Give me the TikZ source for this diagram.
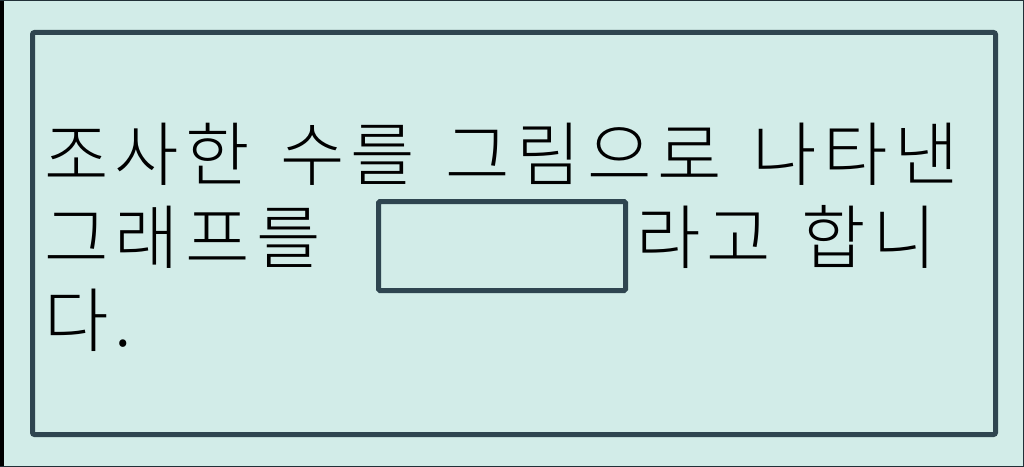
\documentclass[tikz,border=0pt]{standalone}
\usepackage{fontspec}
\newfontfamily\kr[UprightFont={* Light},LetterSpace=9,WordSpace=1.4]{Noto Sans CJK KR}
\definecolor{bgc}{HTML}{D2ECE8}
\definecolor{framec}{HTML}{2F4550}
\tikzset{
  txt/.style={anchor=base west, inner sep=0pt, outer sep=0pt, font=\kr\fontsize{52.5pt}{62pt}\selectfont, text=black},
  framebox/.style={draw=framec, line width=3.75pt, rounded corners=1.5pt},
}
\begin{document}
\begin{tikzpicture}[x=0.75pt,y=-0.75pt]
\useasboundingbox (0,0) rectangle (1024,467);
\fill[bgc] (0,0) rectangle (1024,467);
\fill[black] (0,0) rectangle (4,467);
\draw[framec!70!black, line width=0.75pt] (0,0.5) -- (1023.5,0.5) -- (1023.5,466.5) -- (0,466.5);
\node[framebox, minimum width=963*0.75pt, minimum height=402*0.75pt, inner sep=0pt] (frame) at (514,233.5) {};
\node[txt] (l1) at (44,180) {조사한 수를 그림으로 나타낸};
\node[txt] (l2a) at (44,263) {그래프를};
\node[draw=framec, line width=3.75pt, rounded corners=1pt, minimum width=247*0.75pt, minimum height=89*0.75pt, inner sep=0pt] (ans) at (502,246) {};
\node[txt] (l2b) at (636,263) {라고 합니};
\node[txt] (l3) at (44,346) {다.};
\end{tikzpicture}
\end{document}
